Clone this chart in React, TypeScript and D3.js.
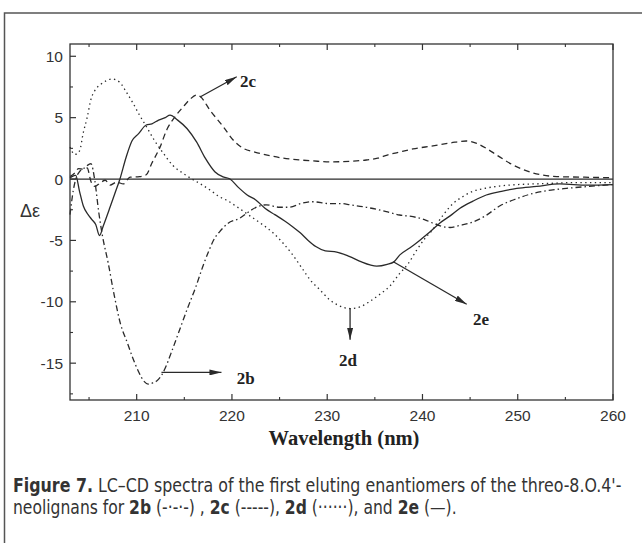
import React, { useLayoutEffect, useRef, useState } from 'react';
import * as d3 from 'd3';

// ---- data (wavelength nm, Δε) ----
const wl2b = [203.0, 203.35, 203.7, 204.0, 204.5, 205.0, 205.2, 205.6, 206.0, 206.4, 207.0, 207.6, 208.3, 209.0, 209.6, 210.2, 210.8, 211.2, 211.7, 212.1, 212.6, 213.0, 213.6, 214.5, 215.3, 216.2, 217.0, 217.6, 218.2, 218.7, 219.6, 220.8, 221.7, 222.7, 223.6, 225.0, 226.0, 227.2, 228.5, 230.2, 231.5, 232.4, 234.1, 236.2, 237.6, 239.0, 240.2, 241.1, 242.0, 242.9, 243.8, 245.3, 246.6, 248.1, 249.9, 251.6, 253.5, 255.1, 257.5, 260.0];
const de2b = [-2.9, -0.9, 0.2, 0.6, 0.9, 1.2, 1.25, -0.1, -2.6, -4.6, -6.8, -9.3, -11.8, -13.3, -14.6, -15.7, -16.5, -16.7, -16.6, -16.45, -16.0, -15.4, -14.2, -12.3, -10.6, -8.8, -7.0, -5.8, -4.8, -4.3, -3.6, -3.2, -2.7, -2.25, -2.1, -2.3, -2.3, -2.0, -1.85, -2.0, -2.0, -2.1, -2.3, -2.65, -2.93, -3.07, -3.3, -3.6, -3.85, -3.95, -3.8, -3.5, -3.0, -2.2, -1.6, -1.17, -0.9, -0.76, -0.6, -0.45];

const wl2c = [203.0, 203.5, 203.9, 204.4, 204.8, 205.2, 205.6, 206.2, 206.7, 207.2, 207.9, 208.6, 209.3, 210.3, 211.0, 211.6, 212.45, 213.15, 214.0, 214.9, 215.6, 216.3, 216.7, 217.7, 219.1, 220.1, 221.2, 222.4, 223.7, 225.4, 227.2, 229.0, 230.6, 232.4, 234.1, 235.3, 236.3, 237.6, 239.0, 241.1, 243.0, 244.6, 245.7, 246.7, 247.8, 249.5, 251.6, 254.1, 257.0, 260.0];
const de2c = [0.2, 0.5, 0.85, 0.8, 0.9, -0.2, -0.6, -0.3, -0.1, -0.5, -0.25, -0.4, 0.15, 0.2, 0.35, 1.3, 2.6, 4.0, 5.05, 5.9, 6.5, 6.85, 6.7, 5.6, 4.25, 3.2, 2.5, 2.2, 1.95, 1.7, 1.55, 1.45, 1.4, 1.45, 1.55, 1.7, 1.95, 2.2, 2.45, 2.7, 2.95, 3.1, 2.9, 2.5, 1.95, 1.15, 0.5, 0.2, 0.15, 0.1];

const wl2d = [203.0, 203.5, 204.0, 204.4, 204.8, 205.2, 205.6, 206.2, 206.8, 207.4, 208.2, 208.9, 209.6, 210.3, 211.0, 211.9, 212.8, 213.8, 214.9, 215.8, 216.6, 217.7, 218.7, 219.5, 220.5, 221.7, 223.0, 224.2, 225.4, 226.4, 227.3, 228.3, 229.2, 230.2, 231.2, 232.4, 233.5, 234.5, 235.5, 236.6, 237.6, 238.5, 239.3, 240.2, 241.1, 242.2, 243.2, 244.3, 245.3, 246.6, 248.1, 250.0, 251.6, 253.5, 255.1, 257.5, 260.0];
const de2d = [2.6, 2.0, 2.3, 3.8, 5.0, 6.5, 7.2, 7.7, 8.0, 8.15, 7.9, 7.1, 6.2, 5.2, 4.3, 3.1, 2.1, 1.1, 0.45, 0.0, -0.35, -0.9, -1.45, -1.75, -2.25, -2.9, -3.6, -4.3, -5.25, -6.2, -7.2, -8.3, -9.0, -9.8, -10.3, -10.55, -10.4, -9.95, -9.4, -8.7, -7.7, -6.9, -5.9, -4.9, -4.1, -2.9, -2.0, -1.4, -1.0, -0.75, -0.57, -0.45, -0.4, -0.35, -0.3, -0.3, -0.3];

const wl2e = [203.0, 203.2, 203.6, 204.0, 204.4, 204.9, 205.3, 205.7, 206.1, 206.5, 207.2, 207.7, 208.2, 208.9, 209.5, 210.2, 211.0, 211.6, 212.3, 213.0, 213.5, 214.3, 215.3, 216.3, 217.2, 218.2, 219.0, 219.8, 220.7, 221.6, 222.5, 223.5, 224.5, 225.5, 226.4, 227.2, 228.0, 228.8, 229.8, 231.0, 232.3, 233.6, 234.5, 235.2, 236.3, 237.0, 237.6, 238.7, 239.7, 240.8, 241.8, 242.9, 243.9, 245.3, 246.7, 248.3, 249.9, 252.0, 254.4, 257.3, 260.0];
const de2e = [0.1, 0.2, 0.3, -1.0, -2.2, -2.9, -3.3, -3.7, -4.6, -3.8, -2.3, -1.2, -0.1, 1.8, 3.1, 3.7, 4.4, 4.5, 4.8, 5.0, 5.2, 4.8, 4.1, 3.0, 1.7, 0.6, 0.2, 0.0, -0.7, -1.3, -1.7, -2.4, -2.9, -3.4, -3.9, -4.4, -5.0, -5.5, -5.85, -5.95, -6.3, -6.75, -7.0, -7.1, -6.95, -6.75, -6.2, -5.6, -5.0, -4.3, -3.6, -3.0, -2.4, -1.8, -1.3, -1.0, -0.76, -0.6, -0.4, -0.5, -0.45];

const xMajorTicks = [210, 220, 230, 240, 250, 260];
const xMinorTicks = [205, 215, 225, 235, 245, 255];
const yMajorTicks = [10, 5, 0, -5, -10, -15];
const yMinorTicks = [7.5, 2.5, -2.5, -7.5, -12.5, -17.5];

// annotation arrows (data units) and label anchors
const seriesNames = ['2b', '2c', '2d', '2e'];
const arrowFrom = [[212.6, -15.75], [216.65, 6.68], [232.4, -10.5], [236.94, -6.74]];
const arrowTo = [[218.9, -15.75], [220.5, 8.33], [232.4, -13.1], [244.64, -10.2]];
const labelAt = [[220.5, -16.7], [220.85, 7.49], [231.24, -15.23], [245.3, -11.89]];

const dashes = ['6 3 1.5 3', '6 4', '1.4 3.4', null];

export default function App() {
  const left = 70, right = 613, top = 44, bottom = 400;
  const x = d3.scaleLinear().domain([203, 260]).range([left, right]);
  const y = d3.scaleLinear().domain([-18, 11]).range([bottom, top]);
  const line = d3.line<[number, number]>().x(d => x(d[0])).y(d => y(d[1])).curve(d3.curveMonotoneX);

  const series = [
    { name: '2b', wl: wl2b, de: de2b },
    { name: '2c', wl: wl2c, de: de2c },
    { name: '2d', wl: wl2d, de: de2d },
    { name: '2e', wl: wl2e, de: de2e },
  ];

  const cap1 = useRef<SVGTextElement>(null);
  const cap2 = useRef<SVGTextElement>(null);
  const [sc, setSc] = useState<[number, number]>([1, 1]);
  useLayoutEffect(() => {
    const w1 = cap1.current ? cap1.current.getComputedTextLength() : 609;
    const w2 = cap2.current ? cap2.current.getComputedTextLength() : 444;
    setSc([609 / w1, 444 / w2]);
  }, []);

  const ink = '#2a2a2a';
  const tickFont = "'Liberation Sans', Arial, sans-serif";
  const serif = "'Liberation Serif', 'Times New Roman', serif";
  const capFont = "'Liberation Sans Narrow', 'DejaVu Sans Condensed', 'Open Sans', sans-serif";

  return (
    <svg width={642} height={543} style={{ position: 'absolute', left: 0, top: 0, background: '#fff' }}>
      <defs>
        <marker id="ah" viewBox="0 0 12 6" refX="12" refY="3" markerWidth="12" markerHeight="6" markerUnits="userSpaceOnUse" orient="auto">
          <path d="M0,0 L12,3 L0,6 z" fill={ink} />
        </marker>
      </defs>
      <rect x={0} y={0} width={642} height={543} fill="#fff" />
      <rect x={4.5} y={13} width={700} height={600} fill="none" stroke="#555" strokeWidth={1.5} />

      {/* zero line */}
      <line x1={left} x2={right} y1={y(0)} y2={y(0)} stroke={ink} strokeWidth={1.3} />

      {/* curves */}
      {series.map((s, i) => (
        <path key={s.name} d={line(s.wl.map((w, k) => [w, s.de[k]] as [number, number])) || ''}
          fill="none" stroke={ink} strokeWidth={1.3}
          strokeDasharray={dashes[i] || undefined} />
      ))}

      {/* frame */}
      <rect x={left} y={top} width={right - left} height={bottom - top} fill="none" stroke="#333" strokeWidth={1.3} />

      {/* ticks */}
      {xMajorTicks.map(t => (
        <g key={'xM' + t}>
          <line x1={x(t)} x2={x(t)} y1={bottom} y2={bottom - 6} stroke="#333" strokeWidth={1.2} />
          <line x1={x(t)} x2={x(t)} y1={top} y2={top + 6} stroke="#333" strokeWidth={1.2} />
          <text x={x(t)} y={421} textAnchor="middle" fontFamily={tickFont} fontSize={15.5} fill="#333">{t}</text>
        </g>
      ))}
      {xMinorTicks.map(t => (
        <g key={'xm' + t}>
          <line x1={x(t)} x2={x(t)} y1={bottom} y2={bottom - 3} stroke="#333" strokeWidth={1.1} />
          <line x1={x(t)} x2={x(t)} y1={top} y2={top + 3} stroke="#333" strokeWidth={1.1} />
        </g>
      ))}
      {yMajorTicks.map(t => (
        <g key={'yM' + t}>
          <line x1={left} x2={left + 6} y1={y(t)} y2={y(t)} stroke="#333" strokeWidth={1.2} />
          <text x={63} y={y(t) + 5.5} textAnchor="end" fontFamily={tickFont} fontSize={15.5} fill="#333">{t}</text>
        </g>
      ))}
      {yMinorTicks.map(t => (
        <line key={'ym' + t} x1={left} x2={left + 3} y1={y(t)} y2={y(t)} stroke="#333" strokeWidth={1.1} />
      ))}

      {/* axis titles */}
      <text x={20} y={217} fontFamily={tickFont} fontSize={18} fill="#333">Δε</text>
      <text x={344} y={445} textAnchor="middle" fontFamily={serif} fontWeight="bold" fontSize={20.5} fill="#222">Wavelength (nm)</text>

      {/* annotations */}
      {seriesNames.map((n, i) => (
        <g key={'a' + n}>
          <line x1={x(arrowFrom[i][0])} y1={y(arrowFrom[i][1])} x2={x(arrowTo[i][0])} y2={y(arrowTo[i][1])}
            stroke={ink} strokeWidth={1.3} markerEnd="url(#ah)" />
          <text x={x(labelAt[i][0])} y={y(labelAt[i][1])} fontFamily={serif} fontWeight="bold" fontSize={17} fill="#222">{n}</text>
        </g>
      ))}

      {/* caption */}
      <g transform={`translate(13,492) scale(${sc[0]},1)`}>
        <text ref={cap1} x={0} y={0} fontFamily={capFont} fontSize={20} fill="#333">
          <tspan fontWeight="bold">Figure 7.</tspan>
          <tspan> LC–CD spectra of the first eluting enantiomers of the threo-8.O.4'-</tspan>
        </text>
      </g>
      <g transform={`translate(13,514) scale(${sc[1]},1)`}>
        <text ref={cap2} x={0} y={0} fontFamily={capFont} fontSize={20} fill="#333">
          <tspan>neolignans for </tspan>
          <tspan fontWeight="bold">2b</tspan>
          <tspan> (-·-·-) , </tspan>
          <tspan fontWeight="bold">2c</tspan>
          <tspan> (-----), </tspan>
          <tspan fontWeight="bold">2d</tspan>
          <tspan> (······), and </tspan>
          <tspan fontWeight="bold">2e</tspan>
          <tspan> (—).</tspan>
        </text>
      </g>
    </svg>
  );
}
